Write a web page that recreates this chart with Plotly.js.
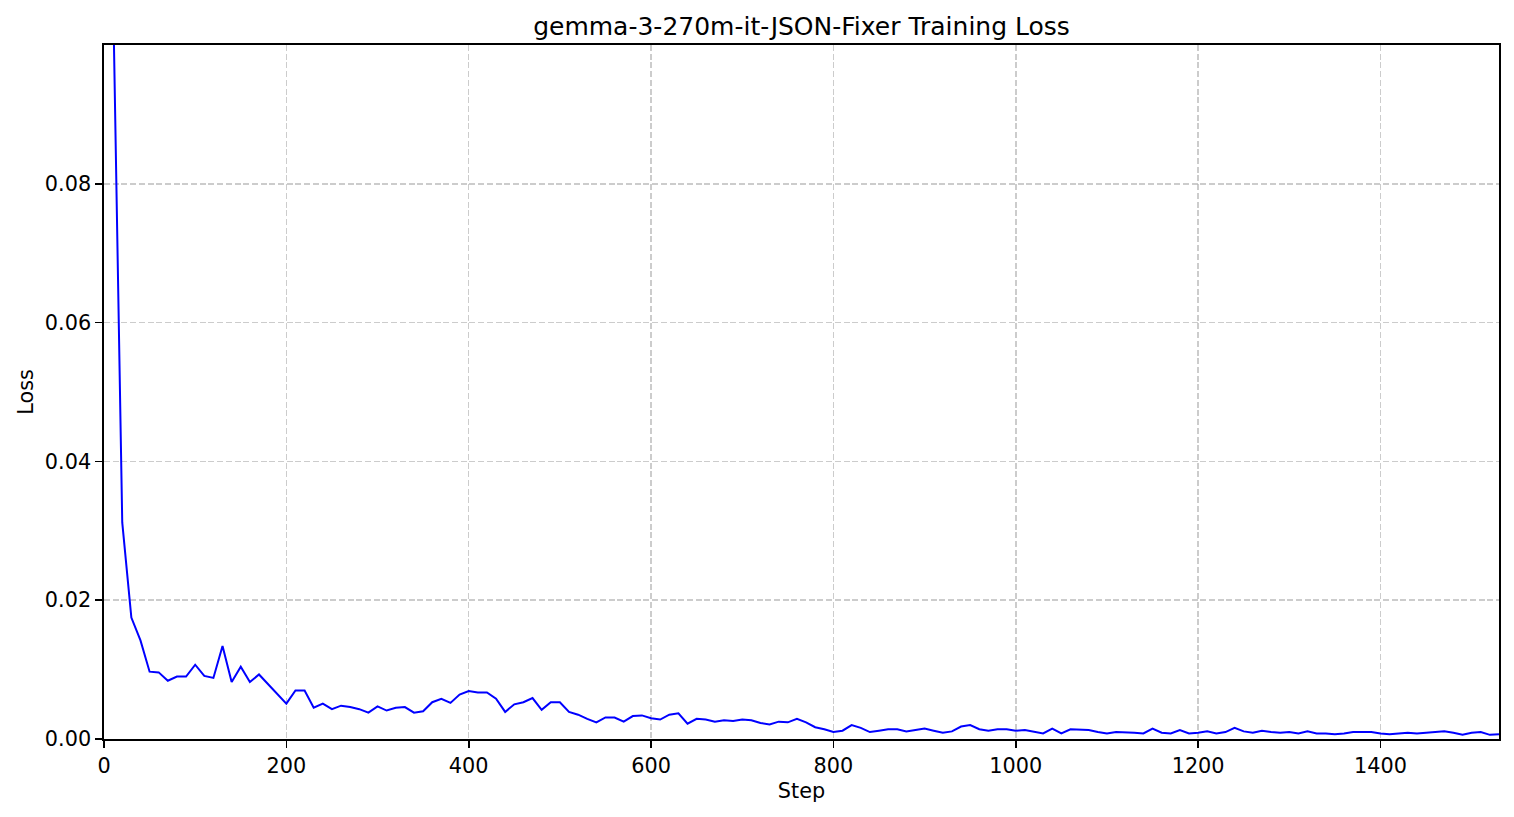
<!DOCTYPE html>
<html>
<head>
<meta charset="utf-8">
<script src="https://cdn.plot.ly/plotly-3.0.1.min.js"></script>
<style>
  html, body { margin: 0; padding: 0; background: #ffffff; }
  #chart { width: 1514px; height: 817px; }
</style>
</head>
<body>
<div id="chart"></div>
<script>
const steps = [
  10, 20, 30, 40, 50, 60, 70, 80, 90, 100,
  110, 120, 130, 140, 150, 160, 170, 180, 190, 200,
  210, 220, 230, 240, 250, 260, 270, 280, 290, 300,
  310, 320, 330, 340, 350, 360, 370, 380, 390, 400,
  410, 420, 430, 440, 450, 460, 470, 480, 490, 500,
  510, 520, 530, 540, 550, 560, 570, 580, 590, 600,
  610, 620, 630, 640, 650, 660, 670, 680, 690, 700,
  710, 720, 730, 740, 750, 760, 770, 780, 790, 800,
  810, 820, 830, 840, 850, 860, 870, 880, 890, 900,
  910, 920, 930, 940, 950, 960, 970, 980, 990, 1000,
  1010, 1020, 1030, 1040, 1050, 1060, 1070, 1080, 1090, 1100,
  1110, 1120, 1130, 1140, 1150, 1160, 1170, 1180, 1190, 1200,
  1210, 1220, 1230, 1240, 1250, 1260, 1270, 1280, 1290, 1300,
  1310, 1320, 1330, 1340, 1350, 1360, 1370, 1380, 1390, 1400,
  1410, 1420, 1430, 1440, 1450, 1460, 1470, 1480, 1490, 1500,
  1510, 1520, 1530
];

const loss = [
  0.107, 0.0312, 0.0175, 0.0142, 0.0097, 0.0096, 0.0084, 0.0090, 0.0090, 0.0107,
  0.0091, 0.0088, 0.0134, 0.0082, 0.0104, 0.0082, 0.0093, 0.0079, 0.0066, 0.0051,
  0.0070, 0.0070, 0.0045, 0.0051, 0.0043, 0.0048, 0.0046, 0.0043, 0.0038, 0.0047,
  0.0041, 0.0045, 0.0046, 0.0038, 0.0040, 0.0053, 0.0058, 0.0052, 0.0064, 0.0069,
  0.0067, 0.0067, 0.0058, 0.0039, 0.0050, 0.0053, 0.0059, 0.0042, 0.0053, 0.0053,
  0.0039, 0.0035, 0.0029, 0.0024, 0.0031, 0.0031, 0.0025, 0.0033, 0.0034, 0.0030,
  0.0028, 0.0035, 0.0037, 0.0022, 0.0029, 0.0028, 0.0025, 0.0027, 0.0026, 0.0028,
  0.0027, 0.0023, 0.0021, 0.0025, 0.0024, 0.0029, 0.0024, 0.0017, 0.0014, 0.0010,
  0.0012, 0.0020, 0.0016, 0.0010, 0.0012, 0.0014, 0.0014, 0.0011, 0.0013, 0.0015,
  0.0012, 0.0009, 0.0011, 0.0018, 0.0020, 0.0014, 0.0012, 0.0014, 0.0014, 0.0012,
  0.0013, 0.0010, 0.0008, 0.0015, 0.0008, 0.0014, 0.0013, 0.0013, 0.0010, 0.0008,
  0.0010, 0.0010, 0.0009, 0.0008, 0.0015, 0.0009, 0.0008, 0.0013, 0.0008, 0.0009,
  0.0011, 0.0008, 0.0010, 0.0016, 0.0011, 0.0009, 0.0012, 0.0010, 0.0009, 0.0010,
  0.0008, 0.0011, 0.0008, 0.0008, 0.0007, 0.0008, 0.0010, 0.0010, 0.0010, 0.0008,
  0.0007, 0.0008, 0.0009, 0.0008, 0.0009, 0.0009, 0.0011, 0.0009, 0.0006, 0.0009,
  0.0010, 0.0006, 0.0007
];

const xTickVals = [0, 200, 400, 600, 800, 1000, 1200, 1400];
const xTickText = ["0", "200", "400", "600", "800", "1000", "1200", "1400"];
const yTickVals = [0, 0.02, 0.04, 0.06, 0.08];
const yTickText = ["0.00", "0.02", "0.04", "0.06", "0.08"];

const chartTitle = "gemma-3-270m-it-JSON-Fixer Training Loss";
const xLabel = "Step";
const yLabel = "Loss";

const FONT = "DejaVu Sans, Liberation Sans, sans-serif";
const gridColor = "rgba(176,176,176,0.65)";

const trace = {
  x: steps,
  y: loss,
  type: "scatter",
  mode: "lines",
  line: { color: "#0000ff", width: 2 },
  hoverinfo: "x+y",
  showlegend: false
};

const axisCommon = {
  showline: true,
  linecolor: "#000000",
  linewidth: 1.67,
  mirror: true,
  ticks: "outside",
  ticklen: 7,
  tickwidth: 1.67,
  tickcolor: "#000000",
  showgrid: true,
  gridcolor: gridColor,
  gridwidth: 1.5,
  griddash: "6px,2.7px",
  zeroline: false,
  tickfont: { family: FONT, size: 20.8, color: "#000000" }
};

const layout = {
  width: 1514,
  height: 817,
  margin: { l: 104, r: 15, t: 45, b: 78, pad: 0 },
  paper_bgcolor: "#ffffff",
  plot_bgcolor: "#ffffff",
  font: { family: FONT, color: "#000000" },
  title: {
    text: chartTitle,
    font: { family: FONT, size: 25, color: "#000000" },
    x: 0.5,
    xref: "paper",
    xanchor: "center",
    y: 1 - 26 / 817,
    yref: "container",
    yanchor: "middle"
  },
  xaxis: Object.assign({}, axisCommon, {
    range: [0, 1530],
    tickmode: "array",
    tickvals: xTickVals,
    ticktext: xTickText,
    title: { text: xLabel, font: { family: FONT, size: 20.8, color: "#000000" }, standoff: 7 }
  }),
  yaxis: Object.assign({}, axisCommon, {
    range: [0, 0.1],
    tickmode: "array",
    tickvals: yTickVals,
    ticktext: yTickText,
    title: { text: yLabel, font: { family: FONT, size: 20.8, color: "#000000" }, standoff: 5 }
  })
};

Plotly.newPlot("chart", [trace], layout, { displayModeBar: false, staticPlot: true });
</script>
</body>
</html>
